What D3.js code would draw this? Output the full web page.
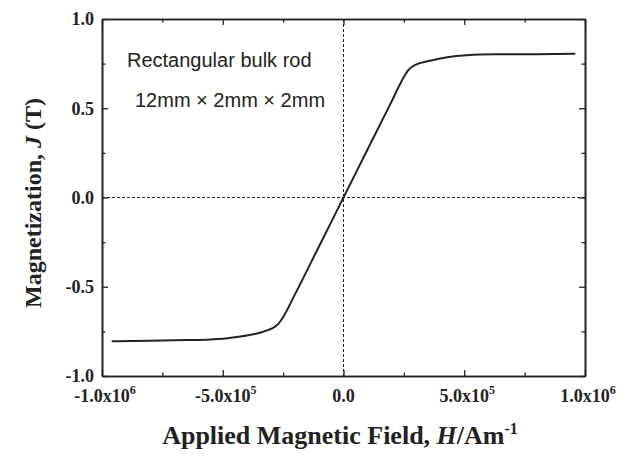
<!DOCTYPE html>
<html>
<head>
<meta charset="utf-8">
<script src="https://cdn.jsdelivr.net/npm/d3@7"></script>
<style>
  body { margin: 0; background: #fff; }
  svg { display: block; }
  .tick-label { font-family: "Liberation Serif", "Times New Roman", serif; font-weight: bold; font-size: 18px; fill: #222; }
  .axis-title { font-family: "Liberation Serif", "Times New Roman", serif; font-weight: bold; fill: #222; }
  .note { font-family: "Liberation Sans", Arial, sans-serif; font-size: 20px; fill: #222; }
</style>
</head>
<body>
<svg id="chart" width="625" height="460"></svg>
<script>
// field H (A/m) and magnetization J (T)
var fieldH = [-9.6e5, -8.0e5, -6.5e5, -5.5e5, -5.0e5, -4.5e5, -4.0e5, -3.5e5, -3.1e5, -2.85e5, -2.7e5, -2.5e5,
              -2.0e5, -1.0e5, 0, 1.0e5, 2.0e5,
              2.5e5, 2.7e5, 3.0e5, 3.3e5, 3.6e5, 4.3e5, 5.1e5, 6.3e5, 8.0e5, 9.6e5];
var magJ = [-0.805, -0.802, -0.799, -0.795, -0.791, -0.783, -0.773, -0.759, -0.742, -0.725, -0.708, -0.67,
            -0.54, -0.27, 0, 0.27, 0.54,
            0.675, 0.716, 0.745, 0.758, 0.767, 0.786, 0.797, 0.802, 0.803, 0.805];

var xMajor = [-1e6, -5e5, 0, 5e5, 1e6];
var xMinor = [-7.5e5, -2.5e5, 2.5e5, 7.5e5];
var xLabels = [["-1.0x10", "6"], ["-5.0x10", "5"], ["0.0", ""], ["5.0x10", "5"], ["1.0x10", "6"]];
var yMajor = [-1, -0.5, 0, 0.5, 1];
var yMinor = [-0.75, -0.25, 0.25, 0.75];
var yLabels = ["-1.0", "-0.5", "0.0", "0.5", "1.0"];

var noteLines = ["Rectangular bulk rod", "12mm \u00d7 2mm \u00d7 2mm"];

var m = {left: 102, right: 585, top: 19, bottom: 376};
var svg = d3.select("#chart");

var x = d3.scaleLinear().domain([-1e6, 1e6]).range([m.left, m.right]);
var y = d3.scaleLinear().domain([-1, 1]).range([m.bottom, m.top]);

var ink = "#222";

// zero reference lines
svg.append("line")
  .attr("x1", x(0)).attr("x2", x(0)).attr("y1", m.top).attr("y2", m.bottom)
  .attr("stroke", ink).attr("stroke-width", 1).attr("stroke-dasharray", "3,2");
svg.append("line")
  .attr("x1", m.left).attr("x2", m.right).attr("y1", y(0)).attr("y2", y(0))
  .attr("stroke", ink).attr("stroke-width", 1).attr("stroke-dasharray", "3,2");

// axes, ticks point inward
function drawAxis(axisFn, scale, major, minor, tr) {
  var a = axisFn(scale).tickValues(major).tickSizeInner(-6).tickSizeOuter(0).tickFormat("");
  var b = axisFn(scale).tickValues(minor).tickSizeInner(-3.5).tickSizeOuter(0).tickFormat("");
  [a, b].forEach(function (ax) {
    var g = svg.append("g").attr("transform", tr).call(ax);
    g.selectAll("path").attr("stroke", ink).attr("stroke-width", 1.6);
    g.selectAll("line").attr("stroke", ink).attr("stroke-width", 1.3);
  });
}

drawAxis(d3.axisBottom, x, xMajor, xMinor, "translate(0," + m.bottom + ")");
drawAxis(d3.axisTop, x, xMajor, xMinor, "translate(0," + m.top + ")");
drawAxis(d3.axisLeft, y, yMajor, yMinor, "translate(" + m.left + ",0)");
drawAxis(d3.axisRight, y, yMajor, yMinor, "translate(" + m.right + ",0)");

// tick labels
yMajor.forEach(function (v, i) {
  svg.append("text").attr("class", "tick-label")
    .attr("x", m.left - 8).attr("y", y(v)).attr("dy", "0.35em")
    .attr("text-anchor", "end").text(yLabels[i]);
});
xMajor.forEach(function (v, i) {
  var t = svg.append("text").attr("class", "tick-label")
    .attr("x", x(v) + (xLabels[i][1] ? 3 : 0)).attr("y", 402).attr("text-anchor", "middle");
  t.append("tspan").text(xLabels[i][0]);
  if (xLabels[i][1]) {
    t.append("tspan").attr("dy", -8).attr("font-size", "12px").text(xLabels[i][1]);
  }
});

// axis titles
var xt = svg.append("text").attr("class", "axis-title").attr("font-size", "26px")
  .attr("x", 340).attr("y", 444).attr("text-anchor", "middle");
xt.append("tspan").text("Applied Magnetic Field, ");
xt.append("tspan").attr("font-style", "italic").text("H");
xt.append("tspan").text("/Am");
xt.append("tspan").attr("dy", -10).attr("font-size", "16px").text("-1");

var yt = svg.append("text").attr("class", "axis-title").attr("font-size", "24px")
  .attr("transform", "translate(41,203) rotate(-90)")
  .attr("text-anchor", "middle");
yt.append("tspan").text("Magnetization, ");
yt.append("tspan").attr("font-style", "italic").text("J");
yt.append("tspan").text(" (T)");

// annotation
svg.append("text").attr("class", "note").attr("x", 127).attr("y", 67).text(noteLines[0]);
svg.append("text").attr("class", "note").attr("x", 135).attr("y", 107).text(noteLines[1]);

// curve
var pts = fieldH.map(function (h, i) { return [h, magJ[i]]; });
var line = d3.line()
  .x(function (d) { return x(d[0]); })
  .y(function (d) { return y(d[1]); })
  .curve(d3.curveMonotoneX);
svg.append("path").datum(pts)
  .attr("d", line)
  .attr("fill", "none").attr("stroke", ink).attr("stroke-width", 2);
</script>
</body>
</html>
